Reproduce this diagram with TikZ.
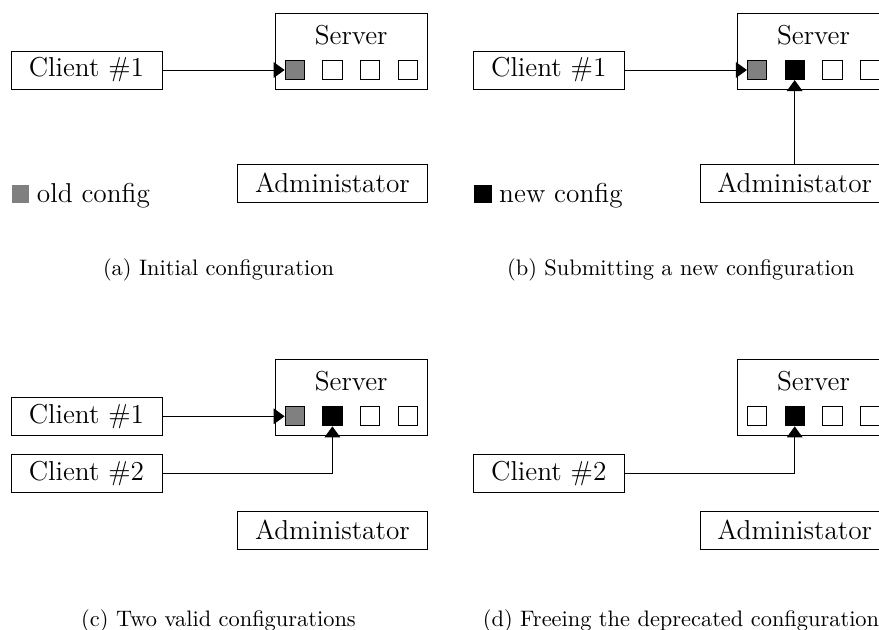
\documentclass[tikz,border=0pt]{standalone}
\usepackage{tikz}
\usetikzlibrary{arrows.meta}

\begin{document}
\begin{tikzpicture}[x=0.4464pt,y=-0.4464pt,
  box/.style={draw, inner sep=0pt, font=\fontsize{12.2}{14}\selectfont},
  client/.style={box, minimum width=67.4pt, minimum height=17pt},
  admin/.style={box, minimum width=84.5pt, minimum height=17pt},
  server/.style={box, minimum width=67.9pt, minimum height=33.9pt},
  title/.style={inner sep=0pt, font=\fontsize{12.2}{14}\selectfont},
  slot/.style={draw, inner sep=0pt, minimum size=8.6pt},
  key/.style={inner sep=0pt, minimum size=8pt},
  keytext/.style={anchor=base west, inner sep=0pt, font=\fontsize{12.2}{14}\selectfont},
  subcap/.style={anchor=base, inner sep=0pt, font=\fontsize{10}{12}\selectfont},
  msg/.style={-{Triangle[length=4.9pt,width=7pt]}}]
  \clip (0,0) rectangle (879,630);
  % (a) initial configuration
  \node[client] (clientA) at (86.5,70) {Client \#1};
  \node[server] (serverA) at (351.2,51.3) {};
  \node[title] (titleA) at (351.2,35) {Server};
  \foreach \i/\c in {1/gray,2/white,3/white,4/white}
    \node[slot, fill=\c] (slotA\i) at ({294.7+37.7*(\i-1)},70) {};
  \node[admin] (adminA) at (332.4,183.3) {Administator};
  \node[key, fill=gray] (keyA) at (20.5,194) {};
  \node[keytext] (keytextA) at (36.5,202) {old config};
  \draw[msg] (clientA.east) -- (slotA1.west);
  \node[subcap] (capA) at (218.5,275.5) {(a) Initial configuration};
  % (b) a new configuration comes in
  \begin{scope}[shift={(462.3,0)}]
    \node[client] (clientB) at (86.5,70) {Client \#1};
    \node[server] (serverB) at (351.2,51.3) {};
    \node[title] (titleB) at (351.2,35) {Server};
    \foreach \i/\c in {1/gray,2/black,3/white,4/white}
      \node[slot, fill=\c] (slotB\i) at ({294.7+37.7*(\i-1)},70) {};
    \node[admin] (adminB) at (332.4,183.3) {Administator};
    \node[key, fill=black] (keyB) at (20.5,194) {};
    \node[keytext] (keytextB) at (36.5,202) {new config};
    \draw[msg] (clientB.east) -- (slotB1.west);
    \draw[msg] (adminB.north) -- (slotB2.south);
    \node[subcap] (capB) at (218.5,275.5) {(b) Submitting a new configuration};
  \end{scope}
  % (c) both configurations in use
  \begin{scope}[shift={(0,346.3)}]
    \node[client] (clientC) at (86.5,70) {Client \#1};
    \node[client] (clientCC) at (86.5,127) {Client \#2};
    \node[server] (serverC) at (351.2,51.3) {};
    \node[title] (titleC) at (351.2,35) {Server};
    \foreach \i/\c in {1/gray,2/black,3/white,4/white}
      \node[slot, fill=\c] (slotC\i) at ({294.7+37.7*(\i-1)},70) {};
    \node[admin] (adminC) at (332.4,184) {Administator};
    \draw[msg] (clientC.east) -- (slotC1.west);
    \draw[msg] (clientCC.east) -| (slotC2.south);
  \end{scope}
  \node[subcap] (capC) at (218.5,626.3) {(c) Two valid configurations};
  % (d) old configuration released
  \begin{scope}[shift={(462.3,346.3)}]
    \node[client] (clientDD) at (86.5,127) {Client \#2};
    \node[server] (serverD) at (351.2,51.3) {};
    \node[title] (titleD) at (351.2,35) {Server};
    \foreach \i/\c in {1/white,2/black,3/white,4/white}
      \node[slot, fill=\c] (slotD\i) at ({294.7+37.7*(\i-1)},70) {};
    \node[admin] (adminD) at (332.4,184) {Administator};
    \draw[msg] (clientDD.east) -| (slotD2.south);
  \end{scope}
  \node[subcap] (capD) at (681,626.3) {(d) Freeing the deprecated configuration};
\end{tikzpicture}
\end{document}
